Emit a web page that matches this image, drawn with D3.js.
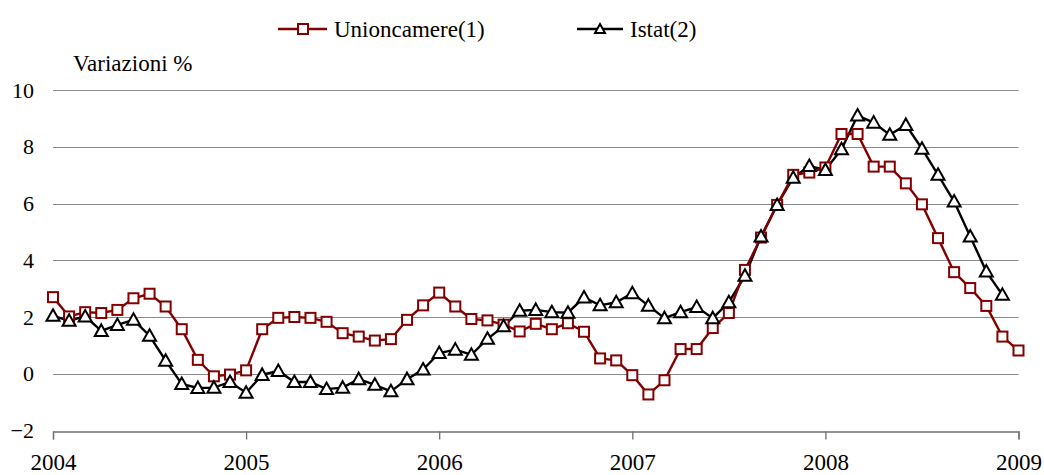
<!DOCTYPE html>
<html>
<head>
<meta charset="utf-8">
<script src="https://cdn.jsdelivr.net/npm/d3@7"></script>
<style>
  body { margin: 0; background: #fff; }
  text { font-family: "Liberation Serif", "Times New Roman", serif; fill: #000; }
</style>
</head>
<body>
<svg id="chart"></svg>
<script>
const years = ['2004', '2005', '2006', '2007', '2008', '2009'];
const yTicks = [-2, 0, 2, 4, 6, 8, 10];

// monthly values, Jan 2004 .. Jan 2009
const unioncamere = [
  2.70, 2.02, 2.17, 2.14, 2.25, 2.66, 2.82, 2.37, 1.57, 0.49, -0.09, -0.03,
  0.12, 1.57, 1.97, 2.00, 1.97, 1.83, 1.43, 1.31, 1.17, 1.22, 1.90, 2.41,
  2.86, 2.37, 1.93, 1.88, 1.73, 1.49, 1.76, 1.57, 1.78, 1.48, 0.54, 0.47,
  -0.05, -0.73, -0.23, 0.87, 0.87, 1.61, 2.14, 3.66, 4.80, 5.95, 7.01, 7.09,
  7.27, 8.45, 8.45, 7.30, 7.30, 6.71, 5.97, 4.78, 3.58, 3.02, 2.39, 1.31,
  0.82
];
// monthly values, Jan 2004 .. Dec 2008
const istat = [
  2.04, 1.87, 2.02, 1.51, 1.72, 1.90, 1.34, 0.46, -0.36, -0.50, -0.49, -0.29,
  -0.67, -0.04, 0.10, -0.29, -0.29, -0.54, -0.49, -0.19, -0.39, -0.62, -0.19, 0.15,
  0.73, 0.85, 0.67, 1.23, 1.67, 2.22, 2.25, 2.17, 2.15, 2.69, 2.41, 2.52,
  2.84, 2.40, 1.96, 2.17, 2.35, 1.96, 2.52, 3.45, 4.84, 5.95, 6.91, 7.32,
  7.18, 7.91, 9.10, 8.85, 8.42, 8.77, 7.93, 7.01, 6.07, 4.84, 3.60, 2.78
];

const width = 1044, height = 475;
const red = '#840000';

const svg = d3.select('#chart')
  .attr('width', width)
  .attr('height', height)
  .style('background-color', '#fff');

const x = d3.scaleLinear().domain([0, 60]).range([53, 1018.5]);
const y = d3.scaleLinear().domain([-2, 10]).range([430.5, 90]);

// gridlines
svg.selectAll('line.grid')
  .data(yTicks.filter(d => d > -2))
  .enter()
  .append('line')
  .attr('x1', x(0))
  .attr('x2', x(60))
  .attr('y1', d => Math.round(y(d)) + 0.5)
  .attr('y2', d => Math.round(y(d)) + 0.5)
  .style('stroke', '#8a8a8a')
  .style('stroke-width', 1.2);

// x axis
const xAxis = d3.axisBottom(x)
  .tickValues(d3.range(0, 61, 12))
  .tickFormat((d, i) => years[i])
  .tickSize(8)
  .tickPadding(14);

const gx = svg.append('g')
  .attr('transform', `translate(0,${Math.round(y(-2)) + 0.5})`)
  .call(xAxis);
gx.select('.domain').style('stroke', '#707070').style('stroke-width', 1.3);
gx.selectAll('.tick line').style('stroke', '#707070').style('stroke-width', 1.3);
gx.selectAll('.tick text')
  .style('font-family', '"Liberation Serif", serif')
  .style('font-size', '23px')
  .style('fill', '#000');

// y axis labels
const yAxis = d3.axisLeft(y).tickValues(yTicks).tickSize(0).tickPadding(0);
const gy = svg.append('g')
  .attr('transform', 'translate(34,0)')
  .call(yAxis);
gy.select('.domain').remove();
gy.selectAll('.tick text')
  .style('font-family', '"Liberation Serif", serif')
  .style('font-size', '22px')
  .style('fill', '#000');

svg.append('text')
  .attr('x', 73)
  .attr('y', 71)
  .style('font-size', '23px')
  .text('Variazioni %');

const line = d3.line()
  .x((d, i) => x(i))
  .y(d => y(d));

const triangle = 'M0,-6.5L6.5,5L-6.5,5Z';

// Istat
svg.append('path')
  .datum(istat)
  .attr('d', line)
  .style('fill', 'none')
  .style('stroke', '#000')
  .style('stroke-width', 2.4);

// Unioncamere
svg.append('path')
  .datum(unioncamere)
  .attr('d', line)
  .style('fill', 'none')
  .style('stroke', red)
  .style('stroke-width', 2.4);

svg.selectAll('rect.uc')
  .data(unioncamere)
  .enter()
  .append('rect')
  .attr('x', (d, i) => x(i) - 5)
  .attr('y', d => y(d) - 5)
  .attr('width', 10)
  .attr('height', 10)
  .style('fill', '#fff')
  .style('stroke', red)
  .style('stroke-width', 2);

svg.selectAll('path.ist')
  .data(istat)
  .enter()
  .append('path')
  .attr('d', triangle)
  .attr('transform', (d, i) => `translate(${x(i)},${y(d)})`)
  .style('fill', '#fff')
  .style('stroke', '#000')
  .style('stroke-width', 2);

// legend
const legend = svg.append('g').attr('transform', 'translate(0,29)');
legend.append('line')
  .attr('x1', 278).attr('x2', 327)
  .style('stroke', red).style('stroke-width', 2.4);
legend.append('rect')
  .attr('x', 298).attr('y', -5).attr('width', 10).attr('height', 10)
  .style('fill', '#fff').style('stroke', red).style('stroke-width', 2);
legend.append('text')
  .attr('x', 334).attr('y', 8)
  .style('font-size', '23px')
  .text('Unioncamere(1)');

legend.append('line')
  .attr('x1', 577).attr('x2', 623)
  .style('stroke', '#000').style('stroke-width', 2.4);
legend.append('path')
  .attr('d', 'M0,-5L5,4L-5,4Z')
  .attr('transform', 'translate(600,0)')
  .style('fill', '#fff').style('stroke', '#000').style('stroke-width', 2);
legend.append('text')
  .attr('x', 630).attr('y', 8)
  .style('font-size', '23px')
  .text('Istat(2)');
</script>
</body>
</html>
